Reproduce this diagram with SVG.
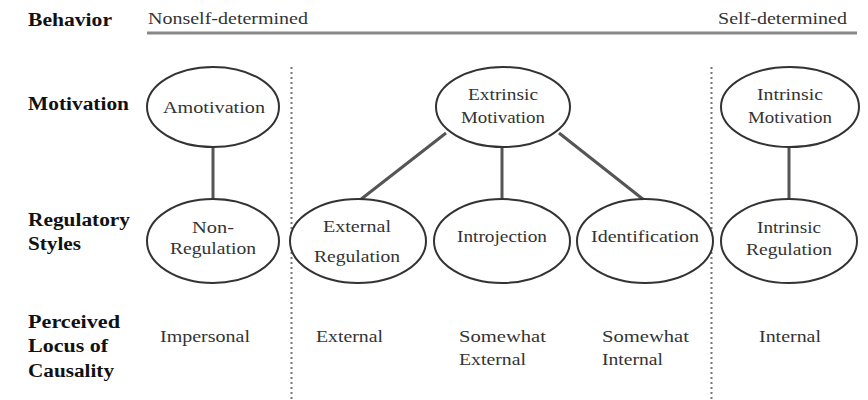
<svg xmlns="http://www.w3.org/2000/svg" width="868" height="400" viewBox="0 0 868 400" font-family="Liberation Serif">
<style>
.node ellipse{fill:#fff;stroke:#333;stroke-width:2}
.conn line{stroke:#555;stroke-width:3}
.div{stroke:#777;stroke-width:2;stroke-dasharray:2 3}
</style>
<rect width="868" height="400" fill="#fff"/>
<g id="labels" font-family="Liberation Serif" font-weight="bold" font-size="18" fill="#111">
<text x="28" y="26" textLength="84" lengthAdjust="spacingAndGlyphs">Behavior</text>
<text x="28" y="110" textLength="101" lengthAdjust="spacingAndGlyphs">Motivation</text>
<text x="28" y="226" textLength="102" lengthAdjust="spacingAndGlyphs">Regulatory</text>
<text x="28" y="250" textLength="53" lengthAdjust="spacingAndGlyphs">Styles</text>
<text x="28" y="328" textLength="92" lengthAdjust="spacingAndGlyphs">Perceived</text>
<text x="28" y="352" textLength="80" lengthAdjust="spacingAndGlyphs">Locus of</text>
<text x="28" y="377" textLength="86" lengthAdjust="spacingAndGlyphs">Causality</text>
</g>
<g id="behavior-axis" font-family="Liberation Serif" font-size="17" fill="#333">
<text x="148" y="24" textLength="160" lengthAdjust="spacingAndGlyphs">Nonself-determined</text>
<text x="718" y="24" textLength="129" lengthAdjust="spacingAndGlyphs">Self-determined</text>
<line x1="147" y1="33" x2="857" y2="33" stroke="#888" stroke-width="3"/>
</g>
<g id="dividers">
<line class="div" x1="291.5" y1="67" x2="291.5" y2="400"/>
<line class="div" x1="711.5" y1="67" x2="711.5" y2="400"/>
</g>
<g class="conn" id="connectors">
<line x1="213" y1="147" x2="213" y2="200"/>
<line x1="446" y1="133" x2="360" y2="200"/>
<line x1="502" y1="147" x2="502" y2="200"/>
<line x1="559" y1="133" x2="644" y2="200"/>
<line x1="789" y1="147" x2="789" y2="200"/>
</g>
<g id="nodes" font-family="Liberation Serif" font-size="17" fill="#333" text-anchor="middle">
<g class="node" id="amotivation">
<ellipse cx="213" cy="107" rx="66" ry="40"/>
<text x="214" y="113" textLength="102" lengthAdjust="spacingAndGlyphs">Amotivation</text>
</g>
<g class="node" id="extrinsic-motivation">
<ellipse cx="503" cy="107" rx="67" ry="40"/>
<text x="503" y="100" textLength="70" lengthAdjust="spacingAndGlyphs">Extrinsic</text>
<text x="503" y="123" textLength="84" lengthAdjust="spacingAndGlyphs">Motivation</text>
</g>
<g class="node" id="intrinsic-motivation">
<ellipse cx="790" cy="107" rx="69" ry="40"/>
<text x="790" y="100" textLength="66" lengthAdjust="spacingAndGlyphs">Intrinsic</text>
<text x="790" y="123" textLength="84" lengthAdjust="spacingAndGlyphs">Motivation</text>
</g>
<g class="node" id="non-regulation">
<ellipse cx="213" cy="241" rx="66" ry="42"/>
<text x="213" y="233" textLength="42" lengthAdjust="spacingAndGlyphs">Non-</text>
<text x="213" y="254" textLength="86" lengthAdjust="spacingAndGlyphs">Regulation</text>
</g>
<g class="node" id="external-regulation">
<ellipse cx="358" cy="241" rx="68" ry="42"/>
<text x="357" y="232" textLength="68" lengthAdjust="spacingAndGlyphs">External</text>
<text x="357" y="262" textLength="86" lengthAdjust="spacingAndGlyphs">Regulation</text>
</g>
<g class="node" id="introjection">
<ellipse cx="502" cy="241" rx="68" ry="42"/>
<text x="502" y="242" textLength="90" lengthAdjust="spacingAndGlyphs">Introjection</text>
</g>
<g class="node" id="identification">
<ellipse cx="645" cy="241" rx="68" ry="42"/>
<text x="645" y="242" textLength="108" lengthAdjust="spacingAndGlyphs">Identification</text>
</g>
<g class="node" id="intrinsic-regulation">
<ellipse cx="789" cy="241" rx="68" ry="42"/>
<text x="789" y="233" textLength="64" lengthAdjust="spacingAndGlyphs">Intrinsic</text>
<text x="789" y="255" textLength="86" lengthAdjust="spacingAndGlyphs">Regulation</text>
</g>
</g>
<g id="locus" font-family="Liberation Serif" font-size="17" fill="#333">
<text x="160" y="342" textLength="90" lengthAdjust="spacingAndGlyphs">Impersonal</text>
<text x="316" y="342" textLength="67" lengthAdjust="spacingAndGlyphs">External</text>
<text x="459" y="342" textLength="87" lengthAdjust="spacingAndGlyphs">Somewhat</text>
<text x="459" y="365" textLength="67" lengthAdjust="spacingAndGlyphs">External</text>
<text x="602" y="342" textLength="87" lengthAdjust="spacingAndGlyphs">Somewhat</text>
<text x="602" y="365" textLength="61" lengthAdjust="spacingAndGlyphs">Internal</text>
<text x="759" y="342" textLength="62" lengthAdjust="spacingAndGlyphs">Internal</text>
</g>
</svg>
